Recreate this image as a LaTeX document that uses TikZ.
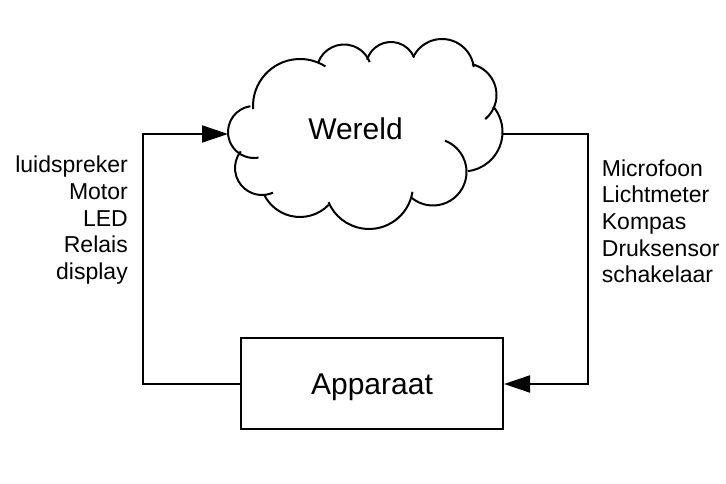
\documentclass[tikz,border=0pt]{standalone}
\usepackage{fontspec}
\setmainfont{Liberation Sans}
\usetikzlibrary{arrows.meta}
\newcommand\cloudpuff[5]{\draw[cloudline] ([shift={(#1pt,#2pt)}]#3:#5pt) arc[start angle=#3, end angle=#4, radius=#5pt];}
\begin{document}
\begin{tikzpicture}[x=1pt,y=1pt,
  cloudline/.style={line width=2pt},
  conn/.style={line width=2pt},
  arr/.style={conn,-{Triangle[length=26pt,width=17pt]}},
  bigtext/.style={font=\fontsize{30}{36}\selectfont},
  lbl/.style={font=\fontsize{23}{26.6}\selectfont, inner sep=0pt},
  box/.style={draw, line width=2pt, minimum width=262pt, minimum height=91pt, inner sep=0pt, text depth=0pt}]
\useasboundingbox (0,0) rectangle (726,484);
% cloud
\cloudpuff{254}{352}{98}{280}{26}
\cloudpuff{300}{378}{183.7}{57.3}{47}
\cloudpuff{344}{412}{161}{21}{27.5}
\cloudpuff{391}{417}{163}{22}{25}
\cloudpuff{442}{413}{154}{7}{32}
\cloudpuff{465}{389}{77}{-50}{31.5}
\cloudpuff{463}{352}{40}{-83}{39.5}
\cloudpuff{433}{312}{69}{-129}{33.5}
\cloudpuff{369}{299}{-9}{-157}{44}
\cloudpuff{300}{307}{-44}{-153}{40}
\cloudpuff{262}{316}{142}{294}{27}
\node[bigtext, inner sep=0pt] (wereld) at (355.5,355) {Wereld};
\node[box, bigtext] (apparaat) at (372,100) {Apparaat};
\coordinate (cloudW) at (228,350);
\coordinate (cloudE) at (502.5,350);
\coordinate (lt) at (143,350);
\coordinate (lb) at (143,100);
\coordinate (rt) at (588,350);
\coordinate (rb) at (588,100);
\draw[arr] (apparaat.west) -- (lb) -- (lt) -- (cloudW);
\draw[arr] (cloudE) -- (rt) -- (rb) -- (apparaat.east);
\node[lbl, align=right, anchor=north east] (outputs) at (128,328) {luidspreker\\Motor\\LED\\Relais\\display};
\node[lbl, align=left, anchor=north west] (inputs) at (601.7,324.5) {Microfoon\\Lichtmeter\\Kompas\\Druksensor\\schakelaar};
\end{tikzpicture}
\end{document}
